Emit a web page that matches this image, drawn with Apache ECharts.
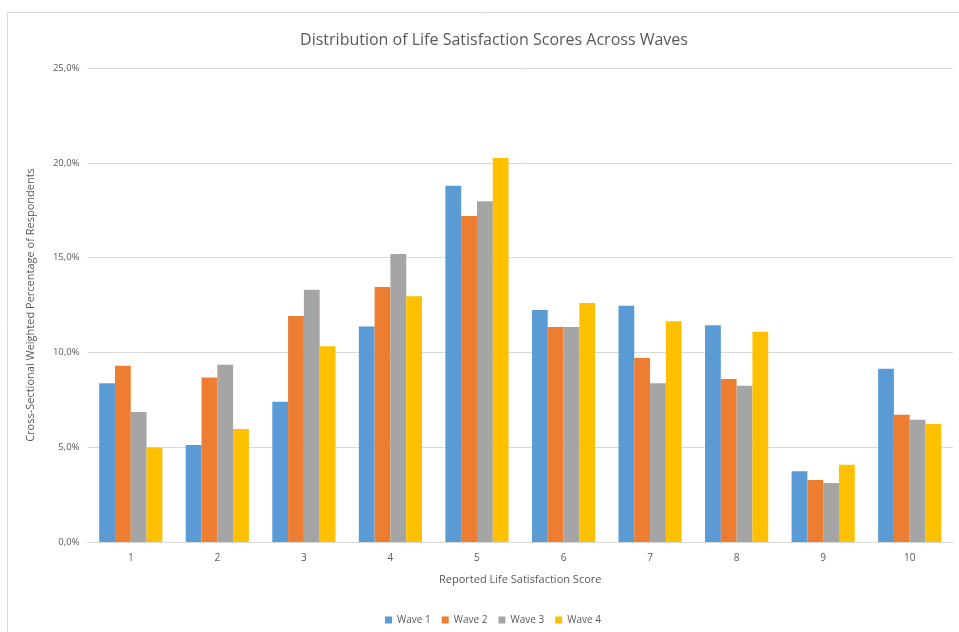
<!DOCTYPE html>
<html>
<head>
<meta charset="utf-8">
<script src="https://cdn.jsdelivr.net/npm/echarts@6/dist/echarts.min.js"></script>
<style>
  html, body { margin: 0; padding: 0; background: #fff; }
  #chart { width: 959px; height: 632px; }
</style>
</head>
<body>
<div id="chart"></div>
<script>
// Life satisfaction score categories (x axis)
const scores = ['1', '2', '3', '4', '5', '6', '7', '8', '9', '10'];

// Cross-sectional weighted percentage of respondents per wave
const wave1 = [8.37, 5.12, 7.40, 11.36, 18.79, 12.24, 12.46, 11.43, 3.73, 9.14];
const wave2 = [9.30, 8.67, 11.92, 13.45, 17.19, 11.34, 9.70, 8.60, 3.27, 6.71];
const wave3 = [6.86, 9.35, 13.31, 15.19, 17.97, 11.34, 8.37, 8.24, 3.11, 6.45];
const wave4 = [4.99, 5.96, 10.32, 12.96, 20.25, 12.60, 11.64, 11.09, 4.08, 6.22];

const waveNames = ['Wave 1', 'Wave 2', 'Wave 3', 'Wave 4'];
const waveColors = ['#5B9BD5', '#ED7D31', '#A5A5A5', '#FFC000'];

const textColor = '#595959';
const fontFamily = '"Open Sans", "Liberation Sans", sans-serif';

const chart = echarts.init(document.getElementById('chart'), null, { renderer: 'canvas' });

const seriesData = [wave1, wave2, wave3, wave4];

chart.setOption({
  backgroundColor: '#ffffff',
  animation: false,
  textStyle: { fontFamily: fontFamily, color: textColor },
  graphic: [{
    type: 'rect',
    shape: { x: 7.5, y: 12.5, width: 1000, height: 700 },
    style: { fill: 'none', stroke: '#D9D9D9', lineWidth: 1 },
    silent: true,
    z: -1
  }],
  title: {
    text: 'Distribution of Life Satisfaction Scores Across Waves',
    left: 489,
    textAlign: 'center',
    top: 27,
    textStyle: { fontFamily: fontFamily, fontSize: 16, fontWeight: 'normal', color: textColor }
  },
  legend: {
    data: waveNames,
    left: 380,
    top: 610,
    itemWidth: 7,
    itemHeight: 7,
    itemGap: 11,
    icon: 'rect',
    textStyle: { fontFamily: fontFamily, fontSize: 10, color: textColor }
  },
  grid: { left: 87.5, right: 6, top: 68, bottom: 90, containLabel: false },
  xAxis: {
    type: 'category',
    data: scores,
    name: 'Reported Life Satisfaction Score',
    nameLocation: 'middle',
    nameGap: 32,
    nameTextStyle: { fontFamily: fontFamily, fontSize: 11, color: textColor },
    axisLine: { lineStyle: { color: '#D9D9D9' } },
    axisTick: { show: false },
    axisLabel: { color: textColor, fontSize: 10, margin: 11, fontFamily: fontFamily }
  },
  yAxis: {
    type: 'value',
    min: 0,
    max: 25,
    interval: 5,
    name: 'Cross-Sectional Weighted Percentage of Respondents',
    nameLocation: 'middle',
    nameRotate: 90,
    nameGap: 51,
    nameTextStyle: { fontFamily: fontFamily, fontSize: 11, color: textColor },
    axisLine: { show: false },
    axisTick: { show: false },
    splitLine: { lineStyle: { color: '#D9D9D9', width: 1 } },
    axisLabel: {
      color: textColor,
      fontSize: 9.5,
      margin: 8,
      fontFamily: fontFamily,
      formatter: v => v.toFixed(1).replace('.', ',') + '%'
    }
  },
  series: waveNames.map((name, i) => ({
    name: name,
    type: 'bar',
    data: seriesData[i],
    barGap: '0%',
    barCategoryGap: '27%',
    itemStyle: { color: waveColors[i] }
  }))
});
</script>
</body>
</html>
